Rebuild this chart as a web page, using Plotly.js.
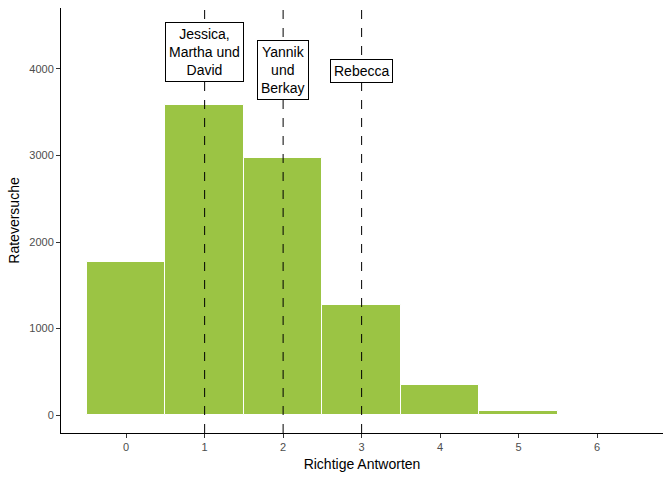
<!DOCTYPE html>
<html>
<head>
<meta charset="utf-8">
<script src="https://cdn.plot.ly/plotly-3.0.1.min.js"></script>
<style>body{margin:0}</style>
</head>
<body>
<div id="chart" style="width:672px;height:480px"></div>
<script>
const answers = [0, 1, 2, 3, 4, 5, 6];
const counts = [1770, 3585, 2970, 1270, 345, 45, 0];
const lineX = [1, 2, 3];
const labelText = ['Jessica,<br>Martha und<br>David', 'Yannik<br>und<br>Berkay', 'Rebecca'];
const labelY = [4195, 3990, 3980];

const data = [{
    x: answers,
    y: counts,
    type: 'bar',
    width: 1,
    marker: {color: '#9bc444', line: {color: 'white', width: 1}},
    hoverinfo: 'x+y'
}];

const shapes = lineX.map(v => ({
    type: 'line', xref: 'x', yref: 'paper', x0: v, x1: v, y0: 0, y1: 1,
    line: {color: 'black', width: 1, dash: 'dash'}
}));

const annotations = lineX.map((v, i) => ({
    x: v, y: labelY[i], text: labelText[i], showarrow: false,
    bgcolor: 'white', bordercolor: 'black', borderwidth: 1, borderpad: 3,
    font: {size: 14, color: 'black'}
}));

const layout = {
    width: 672, height: 480,
    margin: {l: 61, r: 9, t: 8, b: 47},
    plot_bgcolor: 'white', paper_bgcolor: 'white',
    font: {family: 'Liberation Sans, Arial', color: '#4d4d4d', size: 11},
    showlegend: false, bargap: 0,
    xaxis: {
        range: [-0.83, 6.84], tickvals: answers, showgrid: false, zeroline: false,
        showline: true, linecolor: 'black', ticks: 'outside', ticklen: 4, tickcolor: '#333',
        title: {text: 'Richtige Antworten', font: {size: 14, color: 'black'}, standoff: 6}
    },
    yaxis: {
        range: [-208, 4705], tickvals: [0, 1000, 2000, 3000, 4000], showgrid: false, zeroline: false,
        showline: true, linecolor: 'black', ticks: 'outside', ticklen: 4, tickcolor: '#333',
        title: {text: 'Rateversuche', font: {size: 14, color: 'black'}, standoff: 6}
    },
    shapes: shapes,
    annotations: annotations
};

Plotly.newPlot('chart', data, layout, {displayModeBar: false});
</script>
</body>
</html>
